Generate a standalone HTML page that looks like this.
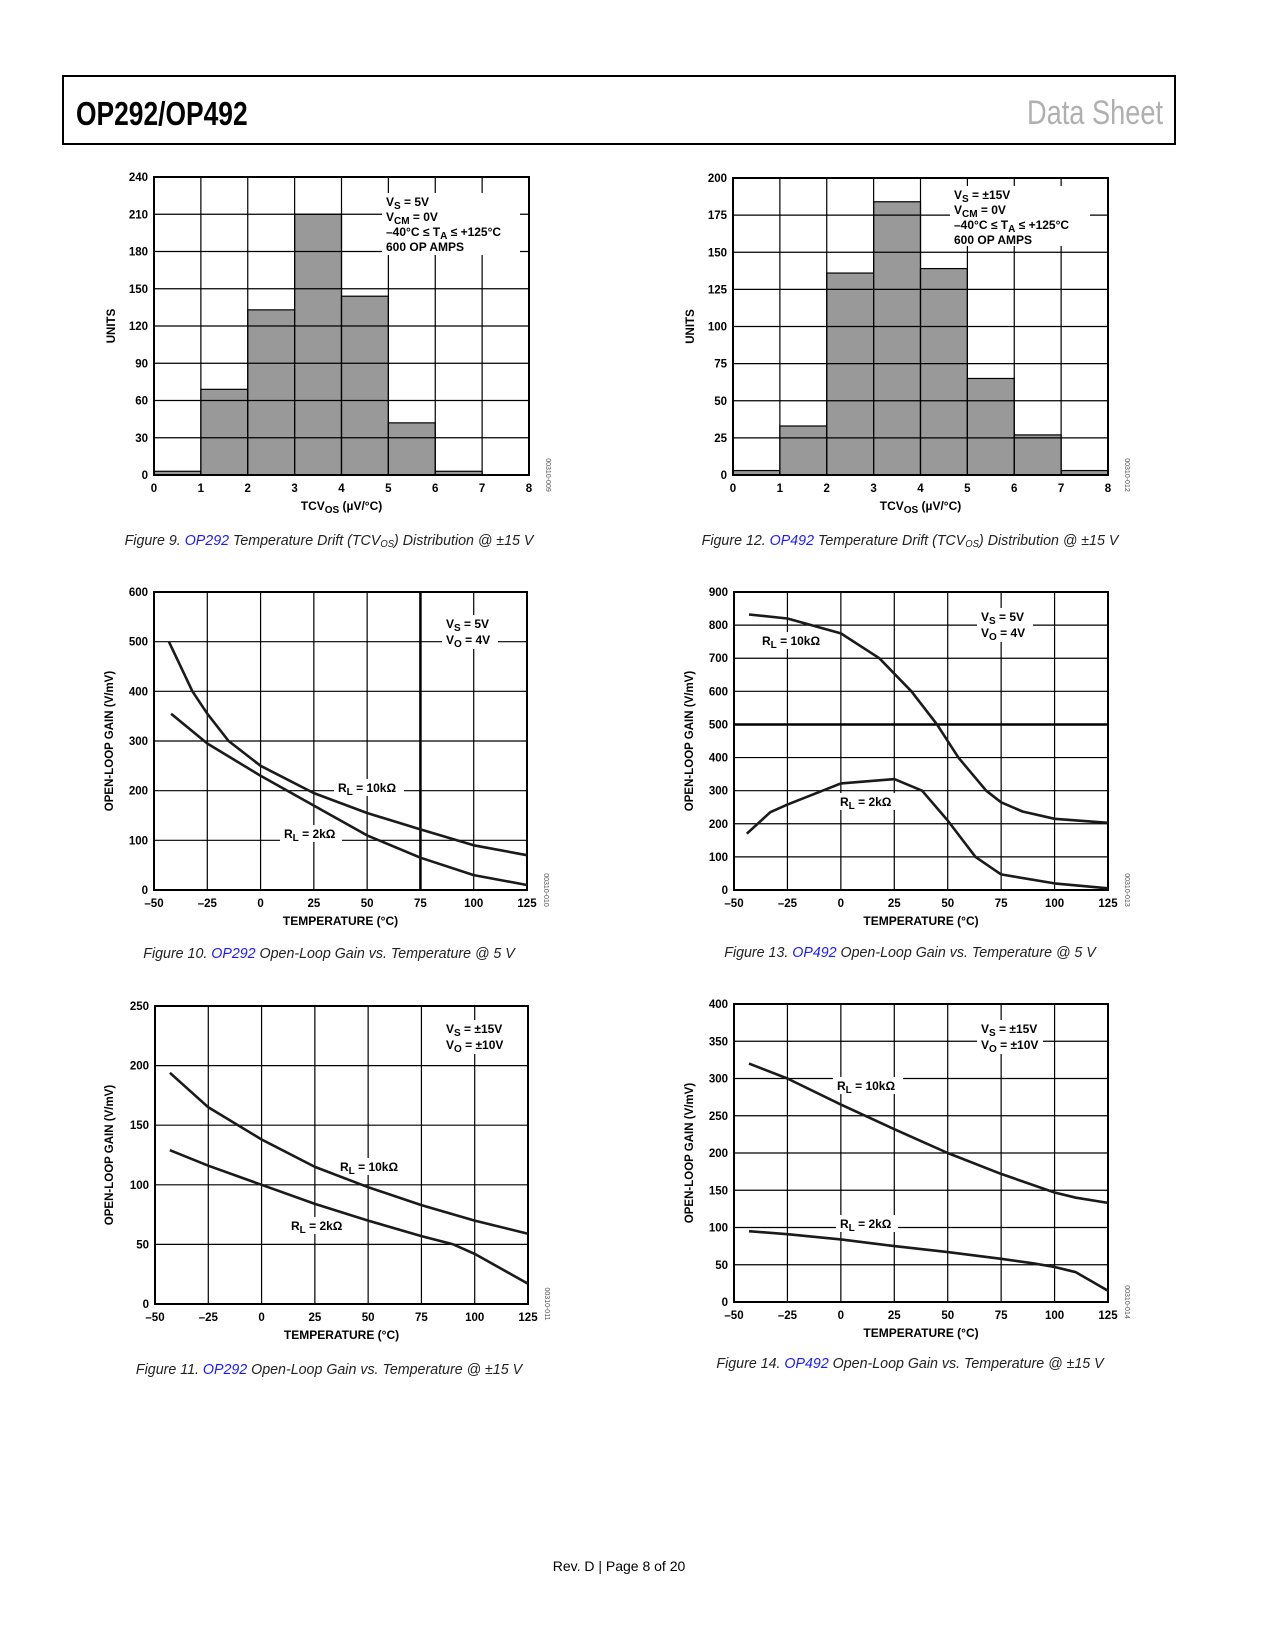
<!DOCTYPE html>
<html><head><meta charset="utf-8"><style>
html,body{margin:0;padding:0;background:#fff;}
svg{display:block;font-family:"Liberation Sans",Arial,sans-serif;}
</style></head><body>
<svg id="page" xmlns="http://www.w3.org/2000/svg" width="1275" height="1650" viewBox="0 0 1275 1650">
<rect x="63" y="76" width="1112" height="68" fill="none" stroke="#000" stroke-width="2"/>
<text x="76" y="125" font-size="33" font-weight="bold" transform="translate(76 0) scale(0.8 1) translate(-76 0)">OP292/OP492</text>
<text x="1163" y="124" font-size="34" fill="#b0b0b0" text-anchor="end" transform="translate(1163 0) scale(0.8 1) translate(-1163 0)">Data Sheet</text>
<text x="619" y="1571" font-size="14" text-anchor="middle">Rev. D | Page 8 of 20</text>
</svg>
<script>
const NS="http://www.w3.org/2000/svg";
const svg=document.getElementById('page');
function mk(tag,attrs,parent){const e=document.createElementNS(NS,tag);for(const k in attrs)e.setAttribute(k,attrs[k]);(parent||svg).appendChild(e);return e;}

// ---------- data ----------
const histBins=[0,1,2,3,4,5,6,7,8];
const fig9Counts=[3,69,133,210,144,42,3,0];
const fig9YTicks=[0,30,60,90,120,150,180,210,240];
const fig12Counts=[3,33,136,184,139,65,27,3];
const fig12YTicks=[0,25,50,75,100,125,150,175,200];
const tempTicks=[-50,-25,0,25,50,75,100,125];
const fig10YTicks=[0,100,200,300,400,500,600];
const fig10T10k=[-43,-32,-25,-15,0,25,50,75,100,125];
const fig10G10k=[500,400,355,300,250,195,155,122,90,70];
const fig10T2k=[-42,-25,0,25,50,75,100,125];
const fig10G2k=[355,295,230,170,110,65,30,10];
const fig13YTicks=[0,100,200,300,400,500,600,700,800,900];
const fig13T10k=[-43,-25,0,18,33,45,55,68,75,85,100,125];
const fig13G10k=[832,820,775,700,600,500,400,300,265,237,215,203];
const fig13T2k=[-44,-33,-25,0,25,38,50,63,75,100,125];
const fig13G2k=[170,235,258,322,335,300,210,100,47,20,5];
const fig11YTicks=[0,50,100,150,200,250];
const fig11T10k=[-43,-25,0,25,50,75,100,125];
const fig11G10k=[194,165,138,115,98,83,70,59];
const fig11T2k=[-43,-25,0,25,50,75,90,100,125];
const fig11G2k=[129,116,100,84,70,57,50,42,17];
const fig14YTicks=[0,50,100,150,200,250,300,350,400];
const fig14T10k=[-43,-25,0,25,50,75,100,110,125];
const fig14G10k=[320,300,265,232,200,172,147,140,133];
const fig14T2k=[-43,-25,0,25,50,75,90,100,110,125];
const fig14G2k=[95,91,84,75,67,58,52,47,40,15];

function richText(g,x,y,parts,anchor,name){
  const t=mk('text',{x:x,y:y,'font-size':12,'font-weight':'bold','text-anchor':anchor||'start'},g);
  
  
  parts.forEach(p=>{const s=mk('tspan',{},t);s.textContent=p[0];if(p[1]){s.setAttribute('baseline-shift','-25%');s.setAttribute('font-size','10');}});
  return t;
}

function chart(o){
  const g=mk('g',{});
  
  
  const xs=v=>o.L+(v-o.xmin)/(o.xmax-o.xmin)*(o.R-o.L);
  const ys=v=>o.B-(v-o.ymin)/(o.ymax-o.ymin)*(o.B-o.T);
  if(o.bars){o.bars.forEach((c,i)=>{if(c<=0)return;const r=mk('rect',{x:xs(o.xt[i]),y:ys(c),width:xs(o.xt[i+1])-xs(o.xt[i]),height:ys(0)-ys(c),fill:'#999',stroke:'#000','stroke-width':1.2},g);
    
    });}
  o.yt.forEach(v=>{const l=mk('line',{x1:o.L,x2:o.R,y1:ys(v),y2:ys(v),stroke:'#000','stroke-width':(o.thickY===v?2.5:1.2)},g);
    
    
    const t=mk('text',{x:o.L-6,y:ys(v)+4,'font-size':11.5,'font-weight':'bold','text-anchor':'end'},g);t.textContent=v<0?'\u2013'+(-v):v;
    
    });
  o.xt.forEach(v=>{const l=mk('line',{x1:xs(v),x2:xs(v),y1:o.T,y2:o.B,stroke:'#000','stroke-width':(o.thickX===v?2.5:1.2)},g);
    
    
    const t=mk('text',{x:xs(v),y:o.B+17,'font-size':11.5,'font-weight':'bold','text-anchor':'middle'},g);t.textContent=v<0?'\u2013'+(-v):v;
    
    });
  const fr=mk('rect',{x:o.L,y:o.T,width:o.R-o.L,height:o.B-o.T,fill:'none',stroke:'#000','stroke-width':2},g);
  
  
  (o.notes||[]).forEach(n=>{
    const bg=mk('rect',{x:n.x-4,y:n.y-13,width:n.w,height:n.h,fill:'#fff'},g);
    
    
    n.lines.forEach((ln,i)=>richText(g,n.x,n.y+i*n.lh,ln,'start',n.name));
  });
  (o.series||[]).forEach(s=>{
    const d=s.t.map((t,i)=>(i?'L':'M')+xs(t).toFixed(1)+' '+ys(s.v[i]).toFixed(1)).join(' ');
    const p=mk('path',{d:d,fill:'none',stroke:'#1a1a1a','stroke-width':2.6,'stroke-linejoin':'round'},g);
    
    
  });
  richText(g,(o.L+o.R)/2,o.B+35,o.xtitle,'middle','x-axis-title');
  const ty=o.ytX, tyy=(o.T+o.B)/2;
  const yt=mk('text',{x:ty,y:tyy,'font-size':11.5,'font-weight':'bold','text-anchor':'middle',transform:`rotate(-90 ${ty} ${tyy})`},g);
  yt.textContent=o.ytitle;
  
  
  const cx=o.R+17,cy=o.B;
  const code=mk('text',{x:cx,y:cy,'font-size':7,fill:'#555','text-anchor':'middle',transform:`rotate(90 ${cx} ${cy})`},g);
  code.textContent=o.code;
  
  
  const c=mk('text',{x:o.capX,y:o.capY,'font-size':15,'font-style':'italic','text-anchor':'middle',fill:'#222',transform:`translate(${o.capX} 0) scale(0.95 1) translate(${-o.capX} 0)`},g);
  
  
  o.cap.forEach(p=>{const s=mk('tspan',{},c);s.textContent=p[0];if(p[1]==='link')s.setAttribute('fill','#1a1aff');if(p[1]==='sub'){s.setAttribute('font-size','10');s.setAttribute('baseline-shift','-20%');}});
}

chart({name:'fig9-histogram',L:154,R:529,T:177,B:475,xmin:0,xmax:8,ymin:0,ymax:240,xt:histBins,yt:fig9YTicks,bars:fig9Counts,
  xtitle:[['TCV'],['OS',1],[' (\u00b5V/\u00b0C)']],ytitle:'UNITS',ytX:115,code:'00310-009',capX:329,capY:545,
  cap:[['Figure 9. '],['OP292','link'],[' Temperature Drift (TCV'],['OS','sub'],[') Distribution @ \u00b115 V']],
  notes:[{x:386,y:206,w:138,h:62,lh:15,name:'conditions-annotation',lines:[[['V'],['S',1],[' = 5V']],[['V'],['CM',1],[' = 0V']],[['\u201340\u00b0C \u2264 T'],['A',1],[' \u2264 +125\u00b0C']],[['600 OP AMPS']]]}]});

chart({name:'fig12-histogram',L:733,R:1108,T:178,B:475,xmin:0,xmax:8,ymin:0,ymax:200,xt:histBins,yt:fig12YTicks,bars:fig12Counts,
  xtitle:[['TCV'],['OS',1],[' (\u00b5V/\u00b0C)']],ytitle:'UNITS',ytX:694,code:'00310-012',capX:910,capY:545,
  cap:[['Figure 12. '],['OP492','link'],[' Temperature Drift (TCV'],['OS','sub'],[') Distribution @ \u00b115 V']],
  notes:[{x:954,y:199,w:140,h:60,lh:15,name:'conditions-annotation',lines:[[['V'],['S',1],[' = \u00b115V']],[['V'],['CM',1],[' = 0V']],[['\u201340\u00b0C \u2264 T'],['A',1],[' \u2264 +125\u00b0C']],[['600 OP AMPS']]]}]});

chart({name:'fig10-gain-vs-temp',L:154,R:527,T:592,B:890,xmin:-50,xmax:125,ymin:0,ymax:600,xt:tempTicks,yt:fig10YTicks,thickX:75,
  xtitle:[['TEMPERATURE (\u00b0C)']],ytitle:'OPEN-LOOP GAIN (V/mV)',ytX:113,code:'00310-010',capX:329,capY:958,
  cap:[['Figure 10. '],['OP292','link'],[' Open-Loop Gain vs. Temperature @ 5 V']],
  series:[{name:'series-rl-10k',t:fig10T10k,v:fig10G10k},{name:'series-rl-2k',t:fig10T2k,v:fig10G2k}],
  notes:[{x:446,y:628,w:56,h:34,lh:16,name:'conditions-annotation',lines:[[['V'],['S',1],[' = 5V']],[['V'],['O',1],[' = 4V']]]},
    {x:338,y:792,w:70,h:17,lh:0,name:'rl-10k-label',lines:[[['R'],['L',1],[' = 10k\u03a9']]]},
    {x:284,y:838,w:62,h:17,lh:0,name:'rl-2k-label',lines:[[['R'],['L',1],[' = 2k\u03a9']]]}]});

chart({name:'fig13-gain-vs-temp',L:734,R:1108,T:592,B:890,xmin:-50,xmax:125,ymin:0,ymax:900,xt:tempTicks,yt:fig13YTicks,thickY:500,
  xtitle:[['TEMPERATURE (\u00b0C)']],ytitle:'OPEN-LOOP GAIN (V/mV)',ytX:693,code:'00310-013',capX:910,capY:957,
  cap:[['Figure 13. '],['OP492','link'],[' Open-Loop Gain vs. Temperature @ 5 V']],
  series:[{name:'series-rl-10k',t:fig13T10k,v:fig13G10k},{name:'series-rl-2k',t:fig13T2k,v:fig13G2k}],
  notes:[{x:981,y:621,w:56,h:34,lh:16,name:'conditions-annotation',lines:[[['V'],['S',1],[' = 5V']],[['V'],['O',1],[' = 4V']]]},
    {x:762,y:645,w:70,h:17,lh:0,name:'rl-10k-label',lines:[[['R'],['L',1],[' = 10k\u03a9']]]},
    {x:840,y:806,w:62,h:17,lh:0,name:'rl-2k-label',lines:[[['R'],['L',1],[' = 2k\u03a9']]]}]});

chart({name:'fig11-gain-vs-temp',L:155,R:528,T:1006,B:1304,xmin:-50,xmax:125,ymin:0,ymax:250,xt:tempTicks,yt:fig11YTicks,
  xtitle:[['TEMPERATURE (\u00b0C)']],ytitle:'OPEN-LOOP GAIN (V/mV)',ytX:113,code:'00310-011',capX:329,capY:1374,
  cap:[['Figure 11. '],['OP292','link'],[' Open-Loop Gain vs. Temperature @ \u00b115 V']],
  series:[{name:'series-rl-10k',t:fig11T10k,v:fig11G10k},{name:'series-rl-2k',t:fig11T2k,v:fig11G2k}],
  notes:[{x:446,y:1033,w:66,h:34,lh:16,name:'conditions-annotation',lines:[[['V'],['S',1],[' = \u00b115V']],[['V'],['O',1],[' = \u00b110V']]]},
    {x:340,y:1171,w:70,h:17,lh:0,name:'rl-10k-label',lines:[[['R'],['L',1],[' = 10k\u03a9']]]},
    {x:291,y:1230,w:62,h:17,lh:0,name:'rl-2k-label',lines:[[['R'],['L',1],[' = 2k\u03a9']]]}]});

chart({name:'fig14-gain-vs-temp',L:734,R:1108,T:1004,B:1302,xmin:-50,xmax:125,ymin:0,ymax:400,xt:tempTicks,yt:fig14YTicks,
  xtitle:[['TEMPERATURE (\u00b0C)']],ytitle:'OPEN-LOOP GAIN (V/mV)',ytX:693,code:'00310-014',capX:910,capY:1368,
  cap:[['Figure 14. '],['OP492','link'],[' Open-Loop Gain vs. Temperature @ \u00b115 V']],
  series:[{name:'series-rl-10k',t:fig14T10k,v:fig14G10k},{name:'series-rl-2k',t:fig14T2k,v:fig14G2k}],
  notes:[{x:981,y:1033,w:66,h:34,lh:16,name:'conditions-annotation',lines:[[['V'],['S',1],[' = \u00b115V']],[['V'],['O',1],[' = \u00b110V']]]},
    {x:837,y:1090,w:70,h:17,lh:0,name:'rl-10k-label',lines:[[['R'],['L',1],[' = 10k\u03a9']]]},
    {x:840,y:1228,w:62,h:17,lh:0,name:'rl-2k-label',lines:[[['R'],['L',1],[' = 2k\u03a9']]]}]});
</script>
</body></html>
